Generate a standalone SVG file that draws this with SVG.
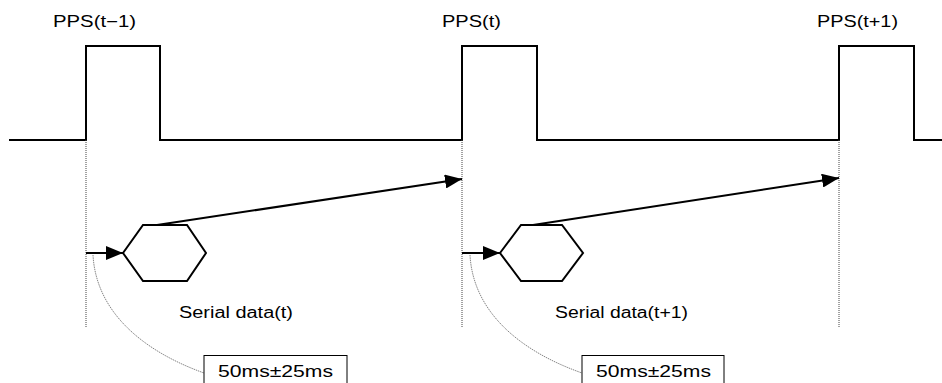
<svg xmlns="http://www.w3.org/2000/svg" width="942" height="383" viewBox="0 0 942 383">
<style>
.sig{fill:none;stroke:#000;stroke-width:2}
.dot{fill:none;stroke:#444;stroke-width:1;stroke-dasharray:1 1}
.curve{fill:none;stroke:#666;stroke-width:0.8;stroke-dasharray:1.5 0.8}
.arr{fill:none;stroke:#000;stroke-width:2}
.hex{fill:#fff;stroke:#000;stroke-width:2}
.box{fill:#fff;stroke:#000;stroke-width:1}
text{font-family:"Liberation Sans","Noto Sans CJK JP",sans-serif;font-size:16px;fill:#000}
</style>
<defs>
<marker id="ah" markerWidth="17" markerHeight="14" refX="17" refY="7" orient="auto" markerUnits="userSpaceOnUse" viewBox="0 0 17 14">
<path d="M0,0 L17,7 L0,14 z" fill="#000"/>
</marker>
</defs>
<rect width="942" height="383" fill="#fff"/>
<g id="pps-signal">
<path class="sig" d="M9,140 H86 V46 H160 V140 H462 V46 H537 V140 H839 V46 H914 V140 H942"/>
</g>
<g id="labels-pps">
<text x="53" y="27" textLength="83" lengthAdjust="spacingAndGlyphs">PPS(t−1)</text>
<text x="442" y="27" textLength="59" lengthAdjust="spacingAndGlyphs">PPS(t)</text>
<text x="817" y="27" textLength="81" lengthAdjust="spacingAndGlyphs">PPS(t+1)</text>
</g>
<g id="guides">
<line class="dot" x1="86" y1="140" x2="86" y2="327"/>
<line class="dot" x1="462" y1="140" x2="462" y2="328"/>
<line class="dot" x1="839" y1="140" x2="839" y2="327"/>
</g>
<g id="connectors">
<line class="arr" x1="86" y1="253" x2="123" y2="253" marker-end="url(#ah)"/>
<line class="arr" x1="157" y1="225" x2="462" y2="179" marker-end="url(#ah)"/>
<line class="arr" x1="462" y1="253" x2="500" y2="253" marker-end="url(#ah)"/>
<line class="arr" x1="533" y1="225" x2="839" y2="178" marker-end="url(#ah)"/>
<path class="curve" d="M93,255 C96,310 140,350 204,373"/>
<path class="curve" d="M470,255 C473,310 517,350 582,373"/>
</g>
<g id="serial-t">
<polygon class="hex" points="123,253 143,225 187,225 206,253 187,281 143,281"/>
<text x="179" y="318" textLength="114" lengthAdjust="spacingAndGlyphs">Serial data(t)</text>
</g>
<g id="serial-t1">
<polygon class="hex" points="500,253 521,225 562,225 583,253 562,281 521,281"/>
<text x="555" y="318" textLength="133" lengthAdjust="spacingAndGlyphs">Serial data(t+1)</text>
</g>
<g id="delay-1">
<rect class="box" x="204" y="355.5" width="143" height="40"/>
<text x="218" y="377" textLength="115" lengthAdjust="spacingAndGlyphs">50ms±25ms</text>
</g>
<g id="delay-2">
<rect class="box" x="582" y="355.5" width="142" height="40"/>
<text x="596" y="377" textLength="115" lengthAdjust="spacingAndGlyphs">50ms±25ms</text>
</g>
</svg>
